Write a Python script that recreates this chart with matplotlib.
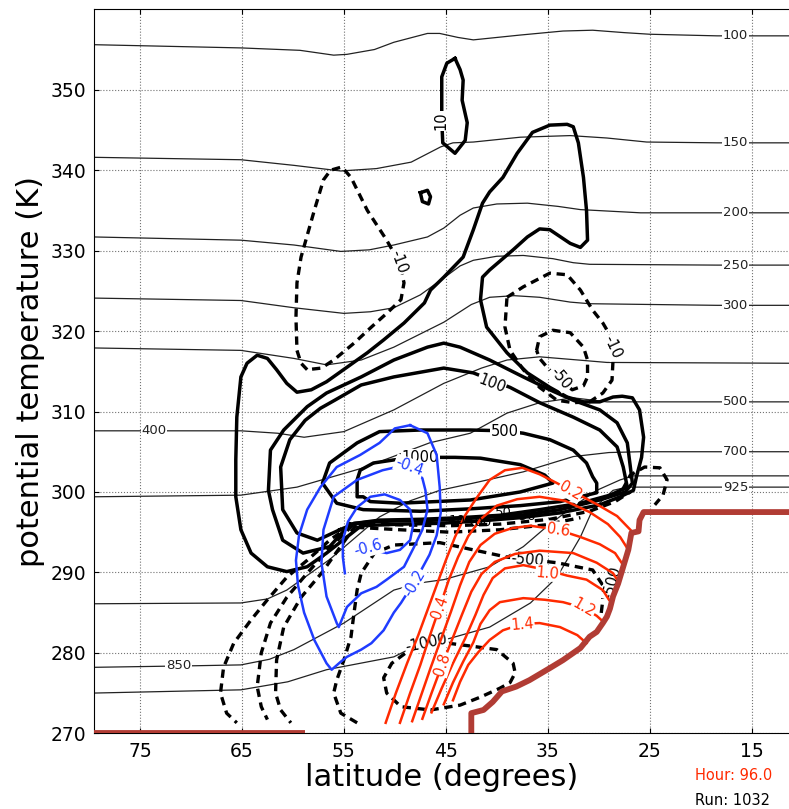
import numpy as np
import matplotlib
matplotlib.use("Agg")
import matplotlib.pyplot as plt

# all points are (latitude, potential temperature)

# isobars (hPa), thin black
isobar_100 = [(79.5, 355.6), (65.1, 355.2), (59.3, 354.9), (56.0, 354.3), (54.7, 354.4), (52.0, 355.0),
              (50.1, 355.9), (46.8, 357.0), (45.6, 357.0), (43.8, 356.5), (42.3, 356.2), (37.7, 356.8),
              (33.5, 357.3), (30.6, 357.4), (27.5, 357.1), (25.0, 356.9), (18.4, 356.7), (11.3, 356.7)]
isobar_150 = [(79.5, 341.6), (65.1, 341.3), (59.9, 340.6), (55.3, 339.9), (51.8, 340.2), (48.4, 341.0),
              (45.5, 342.9), (44.3, 343.4), (42.3, 343.5), (37.7, 344.1), (32.8, 344.3), (29.2, 344.0),
              (25.3, 343.5), (18.4, 343.4), (11.3, 343.4)]
isobar_200 = [(79.5, 331.7), (65.1, 331.3), (59.9, 330.7), (55.3, 329.9), (52.5, 330.1), (50.1, 330.7),
              (46.8, 331.7), (45.2, 332.8), (43.6, 334.4), (42.3, 335.3), (40.0, 335.8), (37.0, 335.9),
              (34.0, 335.5), (31.8, 335.1), (25.9, 334.7), (18.4, 334.7), (11.3, 334.7)]
isobar_250 = [(79.5, 324.1), (65.1, 323.8), (59.9, 322.9), (55.0, 322.2), (52.4, 322.4), (50.1, 322.9),
              (47.5, 324.5), (45.2, 326.6), (43.6, 328.1), (42.3, 328.8), (40.0, 329.3), (37.4, 329.4),
              (34.5, 329.0), (32.5, 328.5), (30.9, 328.3), (18.4, 328.2), (11.3, 328.2)]
isobar_300 = [(79.5, 317.9), (65.1, 317.6), (59.9, 316.6), (56.7, 315.8), (53.3, 316.4), (50.1, 318.0),
              (45.2, 321.1), (42.5, 323.3), (40.7, 324.2), (38.3, 324.4), (35.8, 324.2), (32.8, 323.6),
              (30.9, 323.4), (18.4, 323.2), (11.3, 323.2)]
isobar_400 = [(79.5, 307.6), (65.1, 307.6), (61.5, 307.3), (58.9, 306.8), (55.0, 307.5), (50.1, 310.2),
              (45.2, 313.5), (41.5, 315.4), (39.0, 316.4), (35.8, 316.8), (32.0, 316.4), (29.2, 316.1),
              (11.3, 316.0)]
isobar_500 = [(79.5, 299.4), (65.1, 299.6), (59.6, 300.6), (53.1, 303.0), (46.6, 306.1), (42.6, 307.3),
              (39.0, 309.8), (35.8, 311.1), (32.5, 311.7), (29.2, 311.2), (18.4, 311.2), (11.3, 311.2)]
isobar_700 = [(79.5, 286.1), (65.1, 286.2), (62.5, 286.7), (60.6, 287.8), (56.4, 291.6), (51.5, 296.9),
              (48.5, 298.9), (45.6, 300.2), (42.3, 301.1), (37.4, 302.5), (32.5, 304.4), (29.0, 304.9),
              (25.9, 305.0), (18.4, 305.0), (11.3, 305.0)]
isobar_850 = [(79.5, 278.2), (69.4, 278.4), (65.1, 278.5), (62.3, 279.2), (59.9, 280.4), (55.0, 283.7),
              (50.1, 287.8), (47.5, 288.7), (45.2, 289.1), (40.7, 290.7), (37.4, 293.2), (35.1, 295.7),
              (32.5, 298.2), (30.2, 300.2), (27.9, 301.5), (26.6, 302.0), (11.3, 302.0)]
isobar_925 = [(79.5, 275.0), (65.1, 275.4), (60.5, 276.4), (56.7, 277.9), (50.1, 279.5), (48.2, 280.7),
              (44.6, 281.8), (40.7, 283.2), (36.7, 286.2), (34.1, 289.4), (31.8, 294.4), (30.6, 297.8),
              (28.6, 300.2), (27.2, 300.6), (11.3, 300.6)]
isobar_labels = [(16.6, 356.7, "100"), (16.6, 343.4, "150"), (16.6, 334.7, "200"), (16.6, 328.2, "250"),
                 (16.6, 323.2, "300"), (73.6, 307.6, "400"), (16.6, 311.2, "500"), (16.6, 305.0, "700"),
                 (71.2, 278.4, "850"), (16.6, 300.6, "925")]

# ground (surface theta)
topo_west = [(79.5, 270.0), (58.8, 270.0)]
topo_east = [(42.5, 269.0), (42.5, 272.5), (41.3, 272.9), (40.4, 273.9), (39.5, 275.2), (38.1, 275.8),
             (36.8, 276.6), (34.8, 278.1), (33.5, 279.1), (31.8, 280.6), (30.9, 282.0), (30.2, 282.6),
             (29.6, 283.7), (29.2, 284.5), (28.9, 285.5), (28.6, 287.0), (28.1, 288.6), (27.6, 290.7),
             (27.1, 292.8), (26.8, 294.9), (26.1, 295.1), (26.0, 296.5), (25.6, 297.5), (10.0, 297.5)]

# positive contours, thick solid black
pos_10 = [(53.3, 295.8), (54.7, 294.4), (56.7, 292.4), (58.6, 290.7), (60.6, 290.1), (62.5, 290.7),
          (64.1, 292.4), (65.1, 295.3), (65.6, 299.4), (65.6, 304.0), (65.5, 309.3), (65.1, 314.3),
          (64.5, 316.0), (63.5, 317.0), (62.5, 316.6), (61.6, 315.2), (60.6, 313.5), (59.6, 312.4),
          (58.2, 312.7), (56.7, 313.7), (54.7, 315.5), (52.7, 317.3), (51.1, 318.9), (49.1, 321.0),
          (47.1, 323.5), (46.5, 325.1), (45.2, 326.7), (43.3, 329.2), (42.3, 332.6), (41.4, 335.9),
          (40.7, 337.3), (39.4, 339.1), (38.0, 342.1), (36.5, 344.7), (34.8, 345.6), (33.1, 345.7),
          (32.5, 345.4), (32.0, 343.4), (31.5, 339.1), (31.2, 335.0), (31.1, 331.3), (31.8, 330.4),
          (32.8, 330.9), (34.8, 332.6), (35.8, 332.7), (37.0, 331.7), (38.4, 330.1), (40.7, 327.6),
          (41.4, 326.7), (41.6, 323.9), (41.0, 320.5), (39.0, 317.3), (37.0, 314.8), (34.8, 313.0),
          (33.1, 311.8), (31.5, 311.2), (29.9, 311.2), (28.6, 311.8), (27.7, 311.9), (26.7, 311.7),
          (26.0, 310.2), (25.6, 306.8), (25.8, 304.3), (26.3, 301.9), (26.6, 300.2), (27.9, 299.4),
          (29.9, 298.4), (33.8, 297.4), (37.7, 296.8), (41.6, 296.4), (45.6, 296.1), (49.5, 296.0),
          (53.3, 295.8)]
pos_50 = [(54.4, 296.0), (56.4, 293.2), (59.0, 292.4), (61.0, 294.0), (62.0, 297.8), (62.4, 300.2),
          (62.2, 305.2), (60.9, 307.7), (58.6, 310.6), (56.7, 312.3), (53.3, 314.3), (50.1, 316.4),
          (46.8, 318.0), (45.2, 318.5), (43.6, 318.0), (40.7, 316.4), (37.4, 314.3), (34.8, 312.7),
          (32.5, 311.4), (29.9, 310.2), (28.2, 308.6), (27.2, 306.1), (26.9, 303.1), (26.7, 301.1),
          (27.4, 300.0), (29.9, 299.0), (33.8, 297.8), (37.7, 297.1), (41.6, 296.8), (45.6, 296.5),
          (49.5, 296.4), (52.4, 296.3), (54.4, 296.0)]
pos_100 = [(55.4, 295.3), (57.6, 294.0), (59.6, 294.9), (61.0, 297.8), (61.2, 303.1), (60.3, 306.5),
           (58.8, 308.9), (57.3, 310.4), (55.9, 311.4), (53.3, 313.3), (50.1, 314.3), (45.2, 315.4),
           (42.3, 314.8), (38.7, 313.0), (35.8, 311.1), (32.5, 309.3), (29.9, 307.7), (28.2, 305.6),
           (27.6, 303.1), (27.2, 300.6), (28.9, 299.6), (31.8, 298.6), (35.8, 297.8), (39.7, 297.1),
           (43.6, 296.8), (47.5, 296.6), (51.5, 296.5), (53.9, 296.1), (55.4, 295.3)]
pos_500 = [(39.2, 307.6), (42.6, 307.7), (47.5, 307.7), (51.5, 307.5), (53.7, 306.1), (56.4, 303.6),
           (57.1, 301.1), (55.7, 298.6), (53.1, 297.8), (47.5, 297.6), (42.6, 297.9), (37.7, 298.3),
           (33.8, 298.8), (30.2, 299.9), (30.2, 301.1), (30.6, 301.9), (31.2, 303.6), (32.5, 305.2),
           (34.8, 306.5), (37.4, 307.3), (39.2, 307.6)]
pos_1000 = [(46.6, 304.3), (50.0, 304.0), (52.1, 303.6), (53.4, 302.7), (53.7, 301.5), (53.7, 299.4),
            (53.1, 299.4), (52.4, 298.8), (49.5, 298.6), (42.6, 299.0), (37.7, 300.0), (34.5, 301.1),
            (35.3, 302.1), (37.7, 303.4), (41.6, 304.2), (44.1, 304.3), (46.6, 304.3)]
pos_10_top = [(44.1, 353.9), (43.6, 352.5), (43.3, 351.2), (43.4, 348.7), (42.9, 345.9), (43.1, 343.7),
              (44.1, 342.1), (45.3, 343.4), (45.4, 346.2), (45.4, 351.6), (44.9, 353.3), (44.1, 353.9)]
pos_10_dot = [(47.5, 337.2), (46.8, 337.5), (46.5, 336.7), (46.7, 335.8), (47.3, 336.1), (47.5, 337.2)]

# negative contours, thick dashed black
neg_10_west = [(58.6, 315.2), (59.2, 316.0), (59.6, 317.6), (59.7, 321.7), (59.6, 326.0), (59.2, 329.2),
               (57.9, 335.0), (57.0, 338.8), (56.3, 340.0), (55.2, 340.4), (54.3, 339.1), (52.7, 335.0),
               (50.8, 331.3), (50.0, 329.5), (49.4, 327.6), (49.1, 326.0), (49.4, 323.9), (50.8, 322.2),
               (52.3, 320.5), (54.0, 318.5), (56.0, 316.4), (57.2, 315.4), (58.6, 315.2)]
neg_10_east = [(39.0, 324.2), (37.4, 325.5), (34.8, 327.2), (33.1, 327.0), (31.8, 325.1), (30.6, 322.6),
               (29.6, 321.0), (28.9, 319.5), (28.6, 316.4), (28.7, 313.9), (29.6, 312.3), (30.9, 311.2),
               (32.5, 311.1), (34.1, 311.4), (35.8, 313.0), (37.4, 315.2), (38.7, 317.6), (39.2, 320.5),
               (39.0, 324.2)]
neg_50 = [(36.1, 317.6), (35.8, 319.3), (34.5, 320.1), (32.8, 319.8), (31.5, 318.0), (31.1, 316.4),
          (31.1, 314.3), (31.5, 313.2), (32.6, 312.7), (33.8, 313.9), (35.0, 315.4), (35.8, 316.6),
          (36.1, 317.6)]
neg_fan_1 = [(54.3, 295.9), (56.4, 294.0), (58.6, 291.5), (60.6, 289.4), (62.5, 286.6), (64.1, 284.1),
             (65.8, 281.2), (66.8, 278.2), (67.1, 275.0), (66.5, 272.5), (65.5, 271.3)]
neg_fan_2 = [(54.1, 295.9), (56.4, 293.0), (58.6, 289.9), (60.6, 286.9), (62.2, 283.7), (63.1, 280.0),
             (63.5, 275.8), (63.1, 273.3), (62.5, 271.7)]
neg_fan_3 = [(53.8, 295.9), (55.9, 292.2), (57.2, 289.9), (59.2, 286.9), (60.9, 283.2), (61.6, 279.1),
             (61.7, 275.0), (61.2, 272.9), (60.2, 271.3)]
neg_500 = [(53.7, 271.3), (55.3, 272.5), (56.0, 275.0), (55.7, 276.6), (55.0, 279.1), (54.3, 282.0),
           (54.0, 285.0), (53.7, 287.8), (53.3, 289.9), (52.0, 292.4), (50.1, 293.4), (45.6, 293.7),
           (42.3, 292.8), (39.0, 291.9), (34.1, 291.2), (30.6, 290.3), (29.6, 288.4), (29.6, 286.6),
           (29.8, 284.5)]
neg_1000 = [(44.8, 281.2), (42.3, 280.8), (40.0, 280.4), (38.4, 278.7), (38.2, 277.5), (38.7, 276.3),
            (39.7, 275.6), (41.6, 274.5), (43.6, 273.5), (46.5, 272.9), (49.4, 273.3), (50.8, 275.0),
            (51.1, 276.9), (50.3, 278.7), (48.5, 280.4), (46.6, 281.2), (44.8, 281.2)]
neg_front_1 = [(54.1, 296.1), (49.5, 295.9), (44.6, 295.8), (39.7, 296.0), (34.8, 296.6), (30.9, 297.6),
               (28.4, 298.8), (26.9, 300.0)]
neg_front_2 = [(53.8, 295.6), (49.5, 295.3), (44.6, 295.0), (39.7, 295.3), (35.3, 295.9), (31.8, 296.8)]
neg_front_east = [(27.7, 300.2), (26.9, 302.1), (25.5, 303.1), (24.0, 303.0), (23.3, 301.5), (23.7, 299.6),
                  (24.5, 298.4)]

# blue contours (negative, thin)
blue_02 = [(48.5, 308.3), (50.0, 307.9), (51.5, 306.1), (53.4, 304.6), (55.7, 303.1), (57.3, 300.6),
           (58.6, 297.8), (59.4, 294.6), (59.7, 291.5), (59.5, 288.4), (58.9, 285.0), (57.9, 281.6),
           (56.7, 278.7), (56.2, 277.9), (55.3, 278.9), (54.7, 279.5), (53.3, 280.4), (52.3, 281.2),
           (51.1, 282.8), (50.1, 285.0), (49.4, 286.2), (48.7, 287.6), (48.1, 288.7), (47.5, 290.1),
           (46.6, 292.2), (45.9, 294.6), (45.5, 297.4), (45.6, 300.6), (45.9, 304.6), (46.8, 307.3),
           (48.5, 308.3)]
blue_04 = [(49.8, 303.1), (51.2, 302.7), (53.7, 301.5), (56.0, 299.4), (57.0, 295.3), (57.2, 291.2),
           (56.7, 287.0), (55.7, 283.7), (55.5, 283.2), (54.7, 285.7), (53.3, 287.4), (51.8, 288.2),
           (50.8, 289.1), (49.1, 290.7), (48.1, 293.2), (47.3, 295.3), (46.8, 297.8), (47.0, 300.2),
           (47.3, 301.7), (48.5, 303.1), (49.8, 303.1)]
blue_06 = [(54.9, 289.9), (55.1, 291.9), (55.1, 294.0), (54.6, 296.3), (53.7, 298.1), (52.4, 299.4),
           (51.0, 299.7), (49.5, 299.0), (48.5, 297.8), (48.2, 295.9), (48.5, 294.0), (49.5, 292.8),
           (50.8, 292.4), (52.7, 292.9)]

# red contours (positive, thin)
red_02 = [(50.9, 271.3), (49.9, 275.0), (48.8, 278.7), (47.7, 282.2), (46.8, 285.3), (45.9, 288.4),
          (45.0, 291.5), (44.1, 294.4), (43.1, 297.1), (41.9, 299.4), (40.7, 301.5), (39.2, 302.7),
          (37.5, 303.0), (35.8, 302.2), (34.1, 301.1), (32.3, 299.9), (30.1, 298.4), (28.2, 297.0),
          (26.9, 295.3)]
red_04 = [(49.5, 271.3), (48.5, 275.0), (47.5, 278.5), (46.6, 282.0), (45.6, 285.7), (44.7, 289.1),
          (43.8, 291.9), (42.8, 294.5), (41.6, 296.6), (40.0, 298.3), (38.0, 299.1), (35.8, 299.4),
          (33.3, 298.9), (30.9, 297.5), (29.1, 296.0), (27.9, 294.4), (27.2, 293.0)]
red_06 = [(48.3, 271.5), (47.4, 274.8), (46.5, 278.1), (45.5, 281.6), (44.5, 285.1), (43.6, 288.4),
          (42.7, 291.3), (41.6, 293.4), (40.2, 294.8), (38.5, 295.5), (36.7, 295.8), (34.0, 295.3),
          (31.8, 294.4), (29.9, 293.5), (28.4, 292.4), (27.6, 290.9)]
red_08 = [(47.3, 271.8), (46.4, 275.0), (45.4, 278.4), (44.4, 281.6), (43.4, 284.8), (42.5, 287.6),
          (41.5, 289.8), (40.2, 291.3), (38.2, 292.3), (35.8, 292.7), (32.5, 292.4), (30.2, 291.2),
          (28.6, 289.9), (28.0, 288.7)]
red_10 = [(46.4, 272.6), (45.4, 275.6), (44.3, 278.7), (43.1, 281.8), (42.1, 284.7), (41.3, 287.2),
          (40.4, 289.3), (39.2, 290.5), (37.4, 290.9), (35.1, 290.3), (33.1, 289.6), (31.2, 289.1),
          (29.6, 287.8), (29.0, 286.6)]
red_12 = [(45.2, 273.6), (44.3, 276.3), (43.3, 278.9), (42.3, 281.3), (41.6, 283.6), (40.7, 285.3),
          (39.7, 286.3), (37.4, 286.8), (35.3, 286.6), (33.5, 286.3), (31.5, 285.6), (30.2, 284.6),
          (29.5, 283.8)]
red_14 = [(44.3, 274.1), (43.6, 276.4), (42.8, 278.5), (41.8, 280.1), (40.7, 281.6), (39.4, 282.8),
          (37.5, 283.6), (35.8, 283.7), (33.8, 283.2), (32.1, 282.2), (31.2, 281.2)]

# contour labels: (lat, theta, text, rotation)
black_labels = [(47.5, 304.3, "1000", 0), (39.2, 307.5, "500", 0), (40.5, 313.5, "100", -21),
                (45.5, 346.1, "10", 90), (49.6, 328.6, "-10", -70), (28.7, 318.0, "-10", -65),
                (33.8, 314.1, "-50", -50), (37.0, 291.5, "-500", -5), (28.7, 288.7, "-500", 75),
                (46.9, 281.2, "-1000", 12)]
front_labels = [(43.9, 296.5, "10"), (41.7, 296.2, "100"), (39.4, 297.5, "50"), (37.2, 297.0, "-50")]
red_labels = [(32.8, 300.1, "0.2", -30), (45.6, 285.7, "0.4", 70), (34.0, 295.3, "0.6", -8),
              (45.3, 278.6, "0.8", 72), (35.0, 289.9, "1.0", -5), (31.5, 285.6, "1.2", -30),
              (37.5, 283.5, "1.4", 5)]
blue_labels = [(48.1, 288.7, "-0.2", 60), (48.6, 303.2, "-0.4", -20), (52.6, 293.0, "-0.6", 15)]

hour = 96.0
run = 1032

RED = '#ff2a00'
BLUE = '#1f3cff'
BROWN = '#b13c34'
box = dict(boxstyle='square,pad=0.05', fc='white', ec='none')


def line(ax, pts, **kw):
    a = np.array(pts)
    ax.plot(a[:, 0], a[:, 1], **kw)


fig = plt.figure(figsize=(7.89, 8.09), dpi=100)
ax = fig.add_axes([0.1195, 0.0936, 0.8805, 0.8949])

for iso in [isobar_100, isobar_150, isobar_200, isobar_250, isobar_300, isobar_400,
            isobar_500, isobar_700, isobar_850, isobar_925]:
    line(ax, iso, color='#222222', lw=0.9, zorder=2)
for lat, th, txt in isobar_labels:
    ax.text(lat, th, txt, fontsize=9.5, ha='center', va='center', color='#222222',
            bbox=box, zorder=2.1)

for c in [pos_10, pos_50, pos_100, pos_500, pos_1000, pos_10_top, pos_10_dot]:
    line(ax, c, color='black', lw=2.5, zorder=3)
for c in [neg_10_west, neg_10_east, neg_50, neg_fan_1, neg_fan_2, neg_fan_3, neg_500,
          neg_1000, neg_front_1, neg_front_2, neg_front_east]:
    line(ax, c, color='black', lw=2.4, ls=(0, (2.5, 1.7)), zorder=3)
for lat, th, txt, rot in black_labels:
    ax.text(lat, th, txt, fontsize=10.5, ha='center', va='center', rotation=rot,
            bbox=box, zorder=3.2)

for c in [blue_02, blue_04, blue_06]:
    line(ax, c, color=BLUE, lw=1.8, zorder=4)
for c in [red_02, red_04, red_06, red_08, red_10, red_12, red_14]:
    line(ax, c, color=RED, lw=1.8, zorder=4)
for lat, th, txt, rot in red_labels:
    ax.text(lat, th, txt, fontsize=10.5, ha='center', va='center', rotation=rot,
            color=RED, bbox=box, zorder=4.2)
for lat, th, txt, rot in blue_labels:
    ax.text(lat, th, txt, fontsize=10.5, ha='center', va='center', rotation=rot,
            color=BLUE, bbox=box, zorder=4.2)
for lat, th, txt in front_labels:
    ax.text(lat, th, txt, fontsize=9.5, ha='center', va='center', zorder=5)

line(ax, topo_west, color=BROWN, lw=4.2, zorder=6, solid_capstyle='butt')
line(ax, topo_east, color=BROWN, lw=4.2, zorder=6, solid_capstyle='butt')

ax.set_xlim(79.48, 11.34)
ax.set_ylim(270, 360)
ax.set_xticks([75, 65, 55, 45, 35, 25, 15])
ax.set_yticks(np.arange(270, 351, 10))
ax.tick_params(direction='in', labelsize=13.5, top=True, right=False, pad=6)
ax.grid(True, linestyle=':', color='0.45', lw=0.8)
ax.set_axisbelow(True)
ax.spines['right'].set_visible(False)
ax.set_xlabel('latitude (degrees)', fontsize=22, labelpad=2)
ax.set_ylabel('potential temperature (K)', fontsize=22, labelpad=4)

fig.text(0.881, 0.042, 'Hour: %.1f' % hour, color=RED, fontsize=10.5, va='center')
fig.text(0.881, 0.011, 'Run: %d' % run, color='black', fontsize=10.5, va='center')

fig.savefig('out.png', dpi=100)
